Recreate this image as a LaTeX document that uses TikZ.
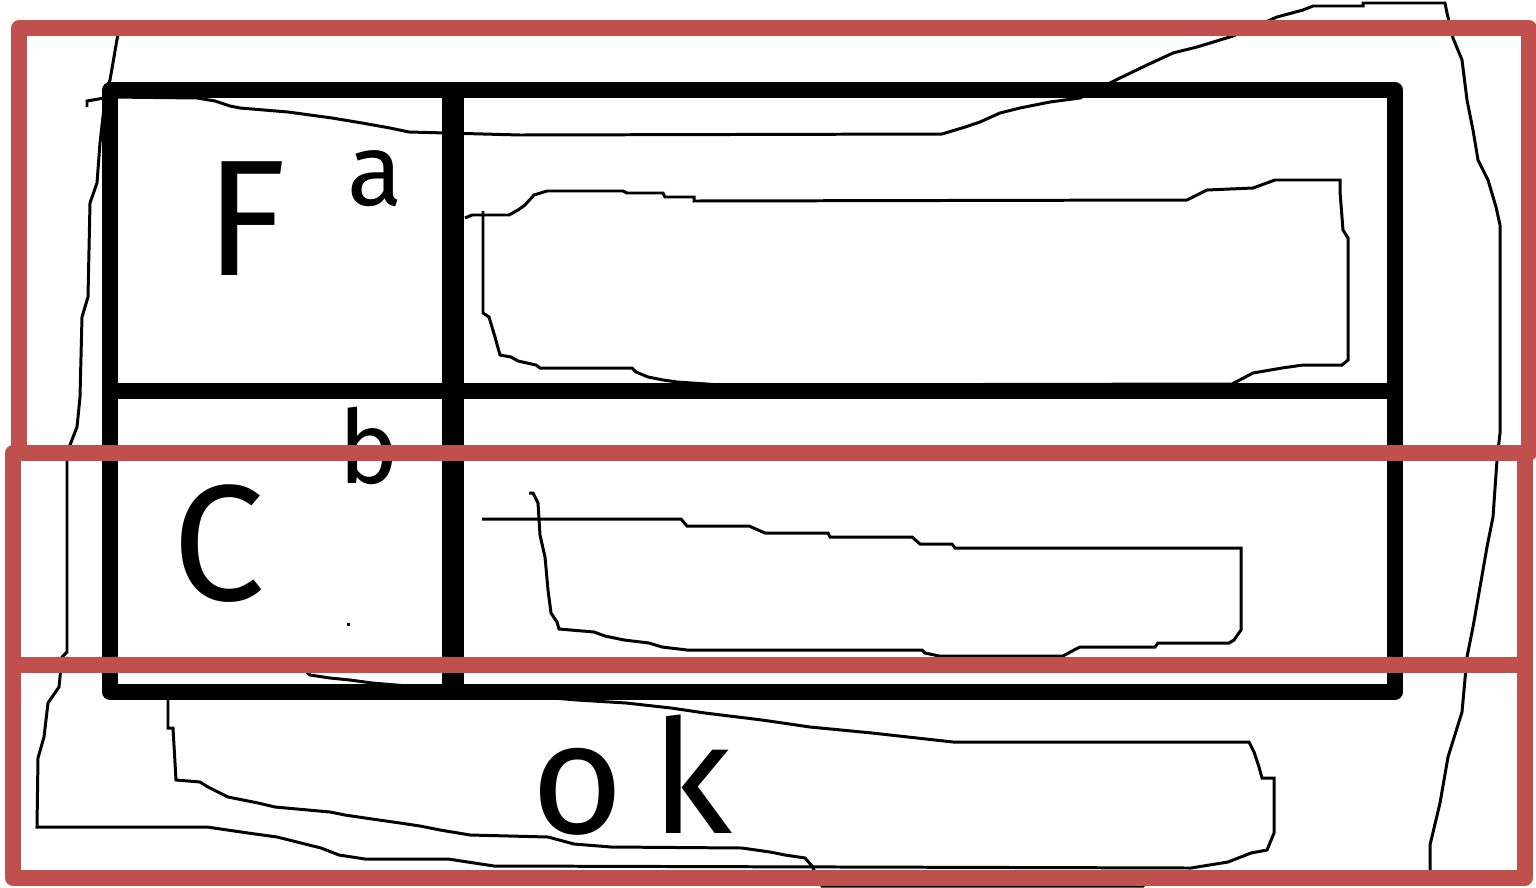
\documentclass[tikz,border=0pt]{standalone}
\usepackage{fontspec}
\newfontfamily\handfont{Fira Sans}
\definecolor{boxred}{HTML}{C0504D}
\newcommand{\bigsize}{\fontsize{94}{100}\selectfont}
\newcommand{\supsize}{\fontsize{58}{62}\selectfont}
\newcommand{\oksize}{\fontsize{90}{96}\selectfont}
\tikzset{
  sketch/.style={x=0.2mm, y=-0.2mm},
  % the red boxes laid over the whole sketch
  redbox/.style={draw=boxred, line width=9pt, line join=round},
  % the heavy strokes of the table
  rule/.style={draw=black, line width=9pt, line join=round},
  % the thin freehand outlines
  scribble/.style={draw=black, line width=1.7pt, line join=miter},
  % a hand-written letter, and the small one beside it
  bigglyph/.style={font=\handfont\bigsize, inner sep=0pt, anchor=base},
  smallglyph/.style={font=\handfont\supsize, inner sep=0pt, anchor=base},
  % the thin word under the table
  okglyph/.style={font=\handfont\oksize\addfontfeature{LetterSpace=18},
                  inner sep=0pt, anchor=base},
}
\newcommand{\glyph}[5]{\node[#5] (#1) at (#2,#3) {#4};}
\newcommand{\rbox}[5]{\draw[redbox] (#1,#2) rectangle (#3,#4) coordinate (#5);}

\begin{document}
\begin{tikzpicture}[sketch]
  \useasboundingbox (0,0) rectangle (1536,887);

  % freehand outlines, under everything else
  \draw[scribble] (119,28) -- (110,80) -- (106,90) -- (100,143) -- (97,183)
    -- (90,203) -- (88,297) -- (82,317) -- (80,397) -- (77,427) -- (70,445)
    -- (67,461) -- (67,652) -- (62,657) -- (59,687) -- (48,703) -- (44,737)
    -- (38,758) -- (37,827) -- (207,827) -- (248,833) -- (277,837)
    -- (293,841) -- (321,848) -- (339,855) -- (365,859) -- (448,859)
    -- (494,866) -- (1191,868) -- (1228,862) -- (1251,853) -- (1267,850)
    -- (1274,833) -- (1274,778) -- (1262,778) -- (1259,767) -- (1254,752)
    -- (1249,742) -- (953,742) -- (917,738) -- (872,733) -- (810,727)
    -- (762,720) -- (705,713) -- (671,708) -- (626,703) -- (577,700)
    -- (372,683) -- (350,680) -- (330,678) -- (310,675) -- (300,666)
    -- (180,666);
  \draw[scribble] (168,692) -- (168,728) -- (173,728) -- (176,780)
    -- (200,782) -- (208,787) -- (228,797) -- (243,800) -- (258,803)
    -- (275,807) -- (330,812) -- (345,815) -- (372,819) -- (400,823)
    -- (420,826) -- (440,830) -- (470,835) -- (548,837) -- (574,844)
    -- (611,847) -- (742,848) -- (770,852) -- (785,855) -- (805,858)
    -- (812,866) -- (822,886) -- (1143,886) -- (1150,880) -- (1430,878)
    -- (1430,845) -- (1440,803) -- (1448,757) -- (1462,712) -- (1467,657)
    -- (1473,627) -- (1480,587) -- (1487,547) -- (1493,517) -- (1497,460)
    -- (1500,433) -- (1500,225) -- (1496,207) -- (1488,180) -- (1478,160)
    -- (1473,130) -- (1467,100) -- (1462,60) -- (1453,38) -- (1447,13)
    -- (1445,3) -- (1363,3) -- (1363,6) -- (1313,6) -- (1303,10)
    -- (1277,17) -- (1233,36) -- (1197,47) -- (1173,53) -- (1147,65)
    -- (1120,78) -- (1080,98) -- (1050,102) -- (1020,108) -- (1000,113)
    -- (980,122) -- (962,128) -- (942,134) -- (520,135) -- (409,132)
    -- (390,128) -- (362,123) -- (332,118) -- (310,115) -- (288,112)
    -- (240,108) -- (230,106) -- (215,101) -- (197,98) -- (110,97)
    -- (87,101) -- (87,107);
  % blob in the upper right cell
  \draw[scribble] (465,218) -- (472,215) -- (509,215) -- (518,210)
    -- (525,205) -- (534,195) -- (547,191) -- (623,191) -- (627,193)
    -- (663,193) -- (665,197) -- (694,197) -- (694,201) -- (1187,200)
    -- (1207,190) -- (1253,188) -- (1275,180) -- (1340,180) -- (1340,192)
    -- (1343,230) -- (1348,238) -- (1348,360) -- (1342,365) -- (1303,365)
    -- (1282,368) -- (1253,373) -- (1232,384) -- (721,385) -- (677,382)
    -- (663,380) -- (648,377) -- (636,372) -- (632,368) -- (540,368)
    -- (536,365) -- (518,361) -- (511,357) -- (500,355) -- (495,337)
    -- (489,317) -- (483,313) -- (483,211);
  % blob in the lower right cell
  \draw[scribble] (482,519) -- (681,519) -- (687,526) -- (749,526)
    -- (765,533) -- (828,533) -- (830,537) -- (912,537) -- (920,544)
    -- (952,544) -- (955,548) -- (1241,548) -- (1241,630) -- (1234,640)
    -- (1229,643) -- (1158,643) -- (1155,647) -- (1080,647) -- (1074,650)
    -- (1063,656) -- (939,656) -- (925,653) -- (922,650) -- (687,650)
    -- (662,647) -- (649,643) -- (624,640) -- (605,636) -- (594,632)
    -- (559,629) -- (557,622) -- (551,613) -- (548,590) -- (545,557)
    -- (540,535) -- (538,503) -- (533,493) -- (529,493);
  \fill (347,623) rectangle (350,626);

  % hand-written letters
  \glyph{fletter}{246}{275}{F}{bigglyph}
  \glyph{asup}{375}{205}{a}{smallglyph}
  \glyph{cletter}{219}{600}{C}{bigglyph}
  \glyph{bsup}{369}{483}{b}{smallglyph}
  \glyph{okword}{632}{833}{ok}{okglyph}

  % the table
  \coordinate (tl) at (110,90);
  \coordinate (br) at (1395,692);
  \draw[rule] (tl) rectangle (br);
  \draw[rule] (tl |- 0,391) coordinate (ml) -- (br |- 0,391) coordinate (mr);
  \draw[rule, line width=12.5pt] (453,90) coordinate (mt) -- (453,692) coordinate (mb);

  % red boxes on top
  \rbox{19}{28}{1529}{453}{upcorner}
  \rbox{13}{453}{1525}{878}{lowcorner}
  \draw[redbox] (13,665) coordinate (midl) -- (1525,665) coordinate (midr);
\end{tikzpicture}
\end{document}
